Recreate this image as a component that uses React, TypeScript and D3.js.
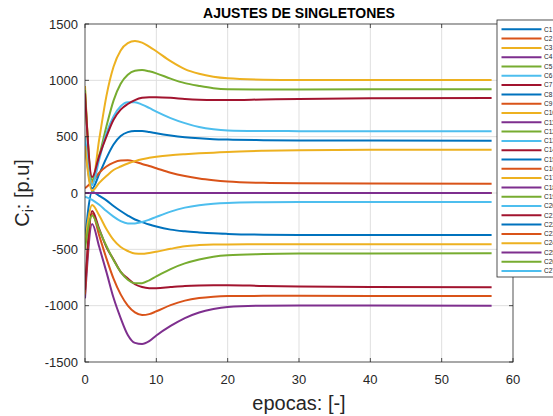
import React from "react";
import * as d3 from "d3";

const epochs = [0, 1, 2, 3, 4, 5, 6, 7, 8, 9, 10, 12, 14, 16, 18, 20, 25, 30, 40, 57];

const posYellowTop = [950, 86, 480, 860, 1120, 1265, 1330, 1349, 1335, 1300, 1258, 1170, 1100, 1058, 1032, 1018, 1006, 1003, 1003, 1003];
const posGreen = [914, 115, 330, 590, 820, 970, 1050, 1085, 1092, 1080, 1062, 1015, 975, 950, 930, 921, 918, 919, 920, 920];
const posDarkRed = [885, 140, 330, 500, 650, 740, 790, 825, 845, 850, 850, 845, 835, 828, 825, 825, 830, 835, 840, 843];
const posLightBlue = [500, 70, 300, 530, 680, 770, 805, 805, 785, 755, 722, 665, 620, 585, 565, 555, 550, 549, 548, 548];
const posBlue = [455, 40, 170, 310, 430, 505, 540, 550, 550, 542, 530, 510, 495, 485, 478, 474, 469, 466, 465, 464];
const posYellow = [417, 20, 90, 150, 204, 235, 262, 283, 300, 312, 322, 336, 345, 352, 358, 365, 375, 380, 383, 384];
const posOrange = [42, 100, 180, 235, 270, 288, 290, 278, 258, 240, 220, 180, 150, 128, 113, 102, 90, 86, 84, 83];
const zeroLine = [0, 0, 0, 0, 0, 0, 0, 0, 0, 0, 0, 0, 0, 0, 0, 0, 0, 0, 0, 0];
const negLightBlue = [-33, -60, -105, -160, -210, -250, -270, -270, -258, -237, -212, -165, -130, -108, -95, -88, -82, -80, -80, -80];
const negBlue = [-420, 12, -25, -65, -115, -160, -200, -235, -258, -280, -298, -325, -340, -350, -358, -363, -370, -372, -373, -373];
const negYellow = [-460, -107, -200, -320, -417, -480, -515, -538, -540, -532, -521, -495, -472, -462, -457, -456, -455, -455, -455, -455];
const negGreen = [-495, -200, -330, -470, -595, -700, -770, -800, -800, -775, -740, -675, -625, -590, -565, -552, -542, -538, -536, -535];
const negDarkRed = [-860, -160, -320, -480, -590, -700, -760, -810, -835, -845, -846, -835, -825, -820, -818, -818, -825, -830, -835, -837];
const negOrange = [-900, -180, -380, -580, -760, -900, -1000, -1060, -1083, -1075, -1050, -995, -955, -932, -920, -915, -913, -913, -914, -914];
const negPurple = [-935, -275, -480, -700, -930, -1110, -1260, -1330, -1340, -1315, -1265, -1180, -1110, -1060, -1030, -1012, -1000, -998, -999, -1000];

const seriesNames = Array.from({ length: 27 }, (_, i) => `C${i + 1}`);
const seriesData = [
  posBlue, posOrange, posYellowTop, negPurple, posGreen, posLightBlue, posDarkRed,
  negBlue, negOrange, posYellow, zeroLine, zeroLine, zeroLine, negDarkRed,
  zeroLine, zeroLine, negYellow, zeroLine, zeroLine, zeroLine, zeroLine,
  zeroLine, zeroLine, zeroLine, zeroLine, negGreen, negLightBlue,
];

const palette = ["#0072BD", "#D95319", "#EDB120", "#7E2F8E", "#77AC30", "#4DBEEE", "#A2142F"];
const xTicks = [0, 10, 20, 30, 40, 50, 60];
const yTicks = [-1500, -1000, -500, 0, 500, 1000, 1500];

const title = "AJUSTES DE SINGLETONES";
const xLabel = "epocas: [-]";

export default function App() {
  const W = 553, H = 416;
  const L = 85, R = 513, T = 24, B = 362;
  const x = d3.scaleLinear().domain([0, 60]).range([L, R]);
  const y = d3.scaleLinear().domain([-1500, 1500]).range([B, T]);
  const line = d3.line<number>()
    .x((_, i) => x(epochs[i]))
    .y((v) => y(v))
    .curve(d3.curveMonotoneX);
  const font = "'Liberation Sans', Arial, Helvetica, sans-serif";
  const axisColor = "#262626";
  const tickLen = 4;
  const legX = 497, legY = 20, legStep = 9.3;

  return (
    <svg width={W} height={H} style={{ position: "absolute", left: 0, top: 0, background: "#fff" }} fontFamily={font}>
      <rect x={0} y={0} width={W} height={H} fill="#fff" />
      <rect x={L} y={T} width={R - L} height={B - T} fill="#fff" />
      {/* grid */}
      {xTicks.filter((t) => t > 0 && t < 60).map((t) => (
        <line key={"gx" + t} x1={x(t)} x2={x(t)} y1={T} y2={B} stroke="#dfdfdf" strokeWidth={1} />
      ))}
      {yTicks.filter((t) => t > -1500 && t < 1500).map((t) => (
        <line key={"gy" + t} x1={L} x2={R} y1={y(t)} y2={y(t)} stroke="#dfdfdf" strokeWidth={1} />
      ))}
      {/* series */}
      <g clipPath="url(#plotclip)">
        {seriesData.map((d, i) => (
          <path key={i} d={line(d) || ""} fill="none" stroke={palette[i % 7]} strokeWidth={2} strokeLinejoin="round" />
        ))}
      </g>
      <defs>
        <clipPath id="plotclip">
          <rect x={L} y={T} width={R - L} height={B - T} />
        </clipPath>
      </defs>
      {/* box */}
      <rect x={L} y={T} width={R - L} height={B - T} fill="none" stroke={axisColor} strokeWidth={0.8} />
      {/* ticks */}
      {xTicks.map((t) => (
        <g key={"tx" + t}>
          <line x1={x(t)} x2={x(t)} y1={B} y2={B - tickLen} stroke={axisColor} strokeWidth={0.8} />
          <line x1={x(t)} x2={x(t)} y1={T} y2={T + tickLen} stroke={axisColor} strokeWidth={0.8} />
          <text x={x(t)} y={384} textAnchor="middle" fontSize={13} fill={axisColor}>{t}</text>
        </g>
      ))}
      {yTicks.map((t) => (
        <g key={"ty" + t}>
          <line x1={L} x2={L + tickLen} y1={y(t)} y2={y(t)} stroke={axisColor} strokeWidth={0.8} />
          <line x1={R} x2={R - tickLen} y1={y(t)} y2={y(t)} stroke={axisColor} strokeWidth={0.8} />
          <text x={78} y={y(t)} dy="0.35em" textAnchor="end" fontSize={13} fill={axisColor}>{t}</text>
        </g>
      ))}
      {/* title */}
      <text x={(L + R) / 2} y={18} textAnchor="middle" fontSize={14} fontWeight="bold" fill="#000">{title}</text>
      {/* x label */}
      <text x={(L + R) / 2} y={410} textAnchor="middle" fontSize={20} fill={axisColor}>{xLabel}</text>
      {/* y label */}
      <text transform={`translate(29, ${(T + B) / 2}) rotate(-90)`} textAnchor="middle" fontSize={20} fill={axisColor}>
        C<tspan fontSize={14} dy={4}>i</tspan><tspan dy={-4}>: [p.u]</tspan>
      </text>
      {/* legend */}
      <rect x={legX} y={legY} width={80} height={257} fill="#fff" stroke={axisColor} strokeWidth={0.8} />
      {seriesNames.map((n, i) => {
        const ly = 29.3 + i * legStep;
        return (
          <g key={"lg" + n}>
            <line x1={501.5} x2={541.5} y1={ly} y2={ly} stroke={palette[i % 7]} strokeWidth={2} />
            <text x={544} y={ly} dy="0.35em" fontSize={6.5} fill={axisColor}>{n}</text>
          </g>
        );
      })}
    </svg>
  );
}
